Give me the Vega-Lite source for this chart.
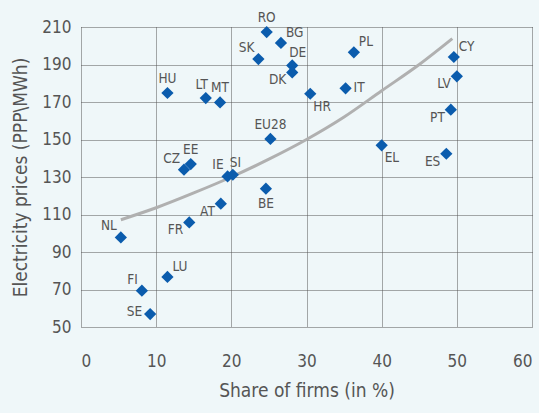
{
  "$schema": "https://vega.github.io/schema/vega-lite/v6.json",
  "width": 451,
  "height": 300,
  "autosize": "none",
  "padding": {"left": 81, "top": 27, "right": 7, "bottom": 86},
  "background": "#eff7f9",
  "config": {
    "view": {"stroke": null},
    "font": "DejaVu Sans Condensed, Liberation Sans, sans-serif",
    "axis": {
      "grid": true,
      "gridDash": [1, 1],
      "gridColor": "#555555",
      "gridWidth": 1,
      "domain": false,
      "ticks": false,
      "labelColor": "#555555",
      "labelFontSize": 17,
      "titleColor": "#555555",
      "titleFontSize": 19,
      "titleFontWeight": "normal"
    }
  },
  "datasets": {
    "points": [
      {"country": "RO", "x": 24.7, "y": 207.3},
      {"country": "BG", "x": 26.6, "y": 201.5},
      {"country": "SK", "x": 23.6, "y": 192.9},
      {"country": "DE", "x": 28.1, "y": 189.5},
      {"country": "DK", "x": 28.1, "y": 185.8},
      {"country": "PL", "x": 36.3, "y": 196.5},
      {"country": "IT", "x": 35.2, "y": 177.3},
      {"country": "HR", "x": 30.5, "y": 174.4},
      {"country": "CY", "x": 49.6, "y": 194.0},
      {"country": "LV", "x": 50.0, "y": 183.7},
      {"country": "PT", "x": 49.2, "y": 165.9},
      {"country": "ES", "x": 48.6, "y": 142.4},
      {"country": "EL", "x": 40.0, "y": 146.9},
      {"country": "EU28", "x": 25.2, "y": 150.3},
      {"country": "BE", "x": 24.6, "y": 123.8},
      {"country": "HU", "x": 11.5, "y": 174.8},
      {"country": "LT", "x": 16.6, "y": 172.1},
      {"country": "MT", "x": 18.5, "y": 169.8},
      {"country": "CZ", "x": 13.7, "y": 133.9},
      {"country": "EE", "x": 14.6, "y": 136.9},
      {"country": "IE", "x": 19.5, "y": 130.3},
      {"country": "SI", "x": 20.2, "y": 131.2},
      {"country": "AT", "x": 18.6, "y": 115.8},
      {"country": "FR", "x": 14.4, "y": 105.8},
      {"country": "NL", "x": 5.3, "y": 97.8},
      {"country": "LU", "x": 11.5, "y": 76.7},
      {"country": "FI", "x": 8.1, "y": 69.4},
      {"country": "SE", "x": 9.2, "y": 56.9}
    ],
    "trend": [
      {"x": 5.3, "y": 107.2},
      {"x": 10, "y": 113.6},
      {"x": 15, "y": 121.5},
      {"x": 20, "y": 130.0},
      {"x": 25, "y": 139.5},
      {"x": 30, "y": 150.0},
      {"x": 35, "y": 162.0},
      {"x": 40, "y": 176.0},
      {"x": 45, "y": 190.0},
      {"x": 49.4, "y": 203.8}
    ]
  },
  "encoding": {
    "x": {
      "field": "x",
      "type": "quantitative",
      "scale": {"domain": [0, 60], "nice": false},
      "axis": {
        "title": "Share of firms (in %)",
        "values": [0, 10, 20, 30, 40, 50, 60],
        "labelPadding": 26,
        "titlePadding": 12
      }
    },
    "y": {
      "field": "y",
      "type": "quantitative",
      "scale": {"domain": [50, 210], "nice": false, "zero": false},
      "axis": {
        "title": "Electricity prices (PPP\\MWh)",
        "values": [50, 70, 90, 110, 130, 150, 170, 190, 210],
        "labelPadding": 10,
        "titlePadding": 11
      }
    }
  },
  "layer": [
    {
      "data": {"name": "trend"},
      "mark": {"type": "line", "color": "#b0b0b0", "strokeWidth": 3, "interpolate": "monotone"}
    },
    {
      "data": {"name": "points"},
      "mark": {"type": "point", "shape": "diamond", "filled": true, "size": 150, "color": "#0b5cad", "opacity": 1}
    },
    {
      "data": {"name": "points"},
      "transform": [{"filter": {"field": "country", "oneOf": ["RO", "EU28", "HU", "MT", "EE"]}}],
      "mark": {"type": "text", "align": "center", "baseline": "middle", "dy": -14, "fontSize": 13.5, "color": "#555555"},
      "encoding": {"text": {"field": "country"}}
    },
    {
      "data": {"name": "points"},
      "transform": [{"filter": {"field": "country", "oneOf": ["LT"]}}],
      "mark": {"type": "text", "align": "center", "baseline": "middle", "dx": -4, "dy": -13, "fontSize": 13.5, "color": "#555555"},
      "encoding": {"text": {"field": "country"}}
    },
    {
      "data": {"name": "points"},
      "transform": [{"filter": {"field": "country", "oneOf": ["BE"]}}],
      "mark": {"type": "text", "align": "center", "baseline": "middle", "dy": 15, "fontSize": 13.5, "color": "#555555"},
      "encoding": {"text": {"field": "country"}}
    },
    {
      "data": {"name": "points"},
      "transform": [{"filter": {"field": "country", "oneOf": ["BG", "PL", "CY", "LU"]}}],
      "mark": {"type": "text", "align": "left", "baseline": "middle", "dx": 5, "dy": -10, "fontSize": 13.5, "color": "#555555"},
      "encoding": {"text": {"field": "country"}}
    },
    {
      "data": {"name": "points"},
      "transform": [{"filter": {"field": "country", "oneOf": ["DE", "SI"]}}],
      "mark": {"type": "text", "align": "left", "baseline": "middle", "dx": -3, "dy": -12, "fontSize": 13.5, "color": "#555555"},
      "encoding": {"text": {"field": "country"}}
    },
    {
      "data": {"name": "points"},
      "transform": [{"filter": {"field": "country", "oneOf": ["SK", "CZ", "NL", "FI", "IE"]}}],
      "mark": {"type": "text", "align": "right", "baseline": "middle", "dx": -4, "dy": -11, "fontSize": 13.5, "color": "#555555"},
      "encoding": {"text": {"field": "country"}}
    },
    {
      "data": {"name": "points"},
      "transform": [{"filter": {"field": "country", "oneOf": ["IT"]}}],
      "mark": {"type": "text", "align": "left", "baseline": "middle", "dx": 8, "dy": 0, "fontSize": 13.5, "color": "#555555"},
      "encoding": {"text": {"field": "country"}}
    },
    {
      "data": {"name": "points"},
      "transform": [{"filter": {"field": "country", "oneOf": ["HR", "EL"]}}],
      "mark": {"type": "text", "align": "left", "baseline": "middle", "dx": 3, "dy": 13, "fontSize": 13.5, "color": "#555555"},
      "encoding": {"text": {"field": "country"}}
    },
    {
      "data": {"name": "points"},
      "transform": [{"filter": {"field": "country", "oneOf": ["DK", "LV", "PT", "ES", "AT", "FR"]}}],
      "mark": {"type": "text", "align": "right", "baseline": "middle", "dx": -6, "dy": 8, "fontSize": 13.5, "color": "#555555"},
      "encoding": {"text": {"field": "country"}}
    },
    {
      "data": {"name": "points"},
      "transform": [{"filter": {"field": "country", "oneOf": ["SE"]}}],
      "mark": {"type": "text", "align": "right", "baseline": "middle", "dx": -8, "dy": -2, "fontSize": 13.5, "color": "#555555"},
      "encoding": {"text": {"field": "country"}}
    }
  ]
}
